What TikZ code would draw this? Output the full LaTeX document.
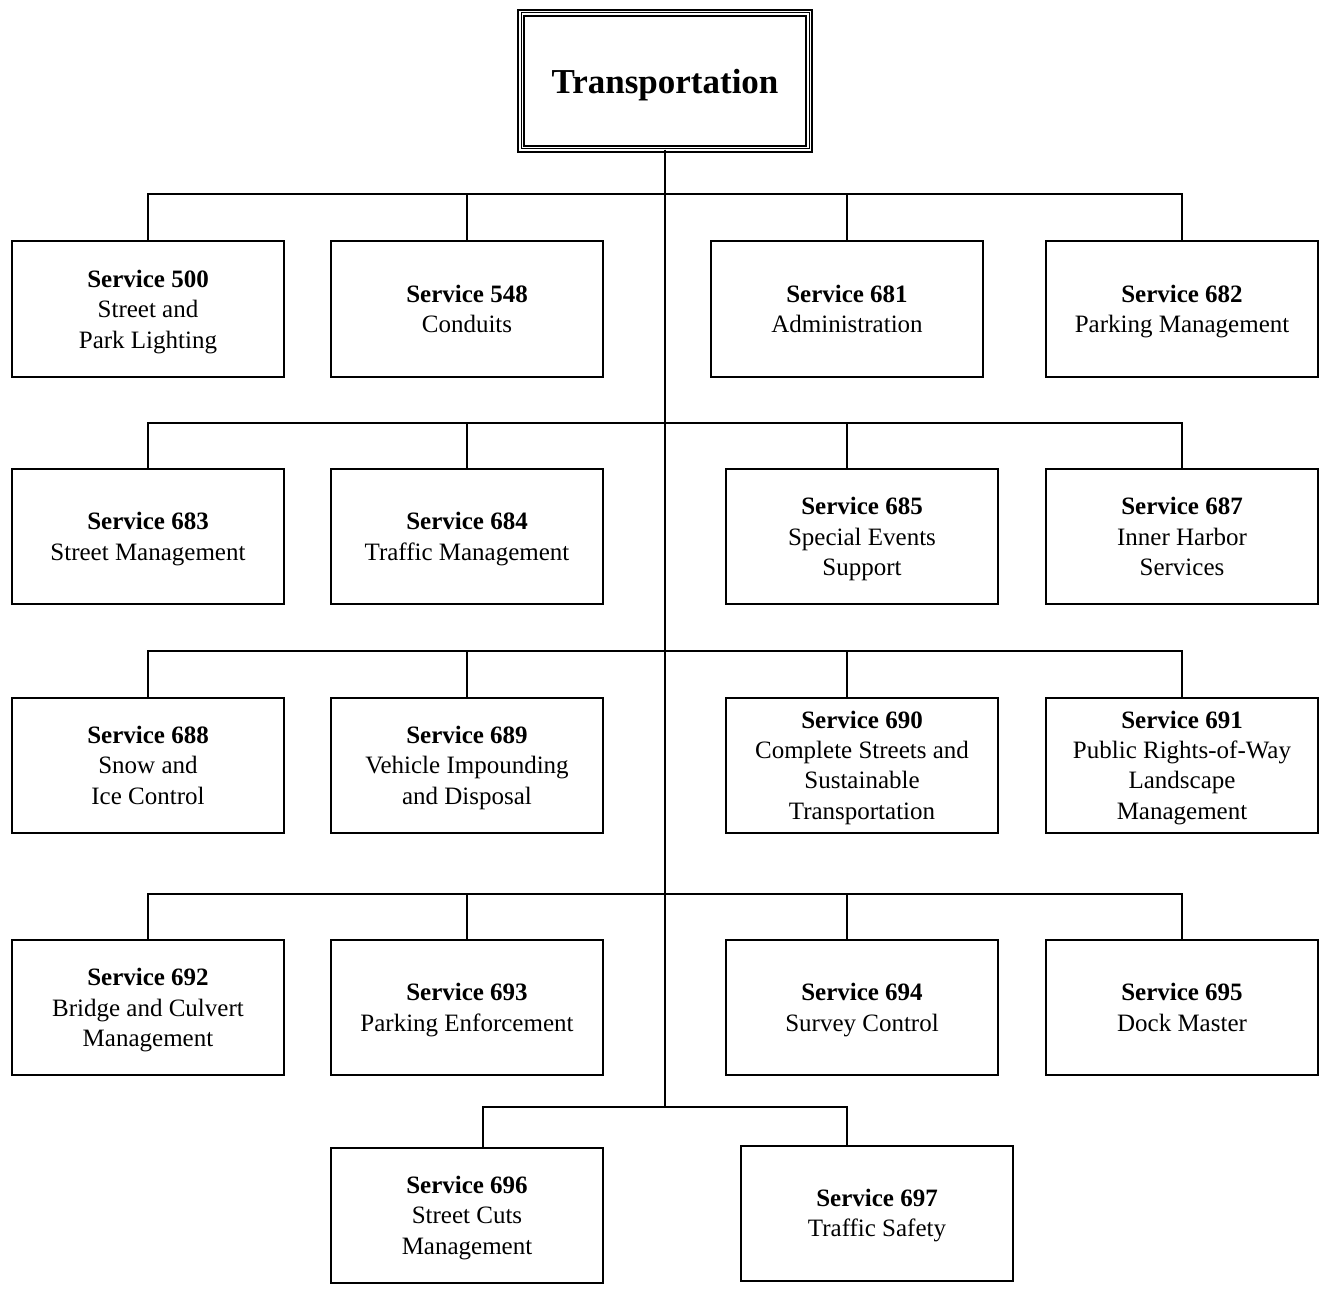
\documentclass[tikz,border=0pt]{standalone}
\usepackage{fontspec}
\setmainfont{Liberation Serif}
\usepackage{tikz}

\begin{document}
\begin{tikzpicture}[x=0.5pt,y=-0.5pt,line width=0.9pt]
\tikzset{svc/.style={draw=black,line width=1pt,align=center,inner sep=2pt,minimum width=136pt,minimum height=67.5pt,text depth=-2.5pt,font=\fontsize{12.5}{15.2}\selectfont}}
\tikzset{head/.style={draw=black,line width=0.7pt,double,double distance=2.4pt,postaction={draw,line width=0.5pt},minimum width=144pt,minimum height=68pt,text depth=0pt,font=\fontsize{17.5}{21}\selectfont\bfseries}}

\useasboundingbox (0,0) rectangle (1322,1289);

        \node[head]            (top)   at (665,81)       {Transportation};

        % row 1
        \node[svc]             (s500)  at (148,309)      {\textbf{Service 500}\\Street and\\Park Lighting};
        \node[svc]             (s548)  at (467,309)      {\textbf{Service 548}\\Conduits};
        \node[svc]             (s681)  at (847,309)      {\textbf{Service 681}\\Administration};
        \node[svc]             (s682)  at (1182,309)     {\textbf{Service 682}\\Parking Management};

        % row 2
        \node[svc]             (s683)  at (148,536.5)    {\textbf{Service 683}\\Street Management};
        \node[svc]             (s684)  at (467,536.5)    {\textbf{Service 684}\\Traffic Management};
        \node[svc]             (s685)  at (862,536.5)    {\textbf{Service 685}\\Special Events\\Support};
        \node[svc]             (s687)  at (1182,536.5)   {\textbf{Service 687}\\Inner Harbor\\Services};

        % row 3
        \node[svc]             (s688)  at (148,765)      {\textbf{Service 688}\\Snow and\\Ice Control};
        \node[svc]             (s689)  at (467,765)      {\textbf{Service 689}\\Vehicle Impounding\\and Disposal};
        \node[svc]             (s690)  at (862,765)      {\textbf{Service 690}\\Complete Streets and\\Sustainable\\Transportation};
        \node[svc]             (s691)  at (1182,765)     {\textbf{Service 691}\\Public Rights-of-Way\\Landscape\\Management};

        % row 4
        \node[svc]             (s692)  at (148,1007.5)   {\textbf{Service 692}\\Bridge and Culvert\\Management};
        \node[svc]             (s693)  at (467,1007.5)   {\textbf{Service 693}\\Parking Enforcement};
        \node[svc]             (s694)  at (862,1007.5)   {\textbf{Service 694}\\Survey Control};
        \node[svc]             (s695)  at (1182,1007.5)  {\textbf{Service 695}\\Dock Master};

        % row 5
        \node[svc]             (s696)  at (467,1215)     {\textbf{Service 696}\\Street Cuts\\Management};
        \node[svc]             (s697)  at (877,1213)     {\textbf{Service 697}\\Traffic Safety};

        % trunk and buses
        \coordinate (r1) at (665,194);
        \coordinate (r2) at (665,423);
        \coordinate (r3) at (665,651);
        \coordinate (r4) at (665,894);
        \coordinate (r5) at (665,1107);

        \draw (top) -- (r5);

        \draw (r1) -| (s500.north);
        \draw (r1) -| (s548.north);
        \draw (r1) -| (s681.north);
        \draw (r1) -| (s682.north);

        \draw (r2) -| (s683.north);
        \draw (r2) -| (s684.north);
        \draw (r2) -| ([xshift=-7.5pt]s685.north);
        \draw (r2) -| (s687.north);

        \draw (r3) -| (s688.north);
        \draw (r3) -| (s689.north);
        \draw (r3) -| ([xshift=-7.5pt]s690.north);
        \draw (r3) -| (s691.north);

        \draw (r4) -| (s692.north);
        \draw (r4) -| (s693.north);
        \draw (r4) -| ([xshift=-7.5pt]s694.north);
        \draw (r4) -| (s695.north);

        \draw (r5) -| ([xshift=8pt]s696.north);
        \draw (r5) -| ([xshift=-15pt]s697.north);

\end{tikzpicture}
\end{document}
